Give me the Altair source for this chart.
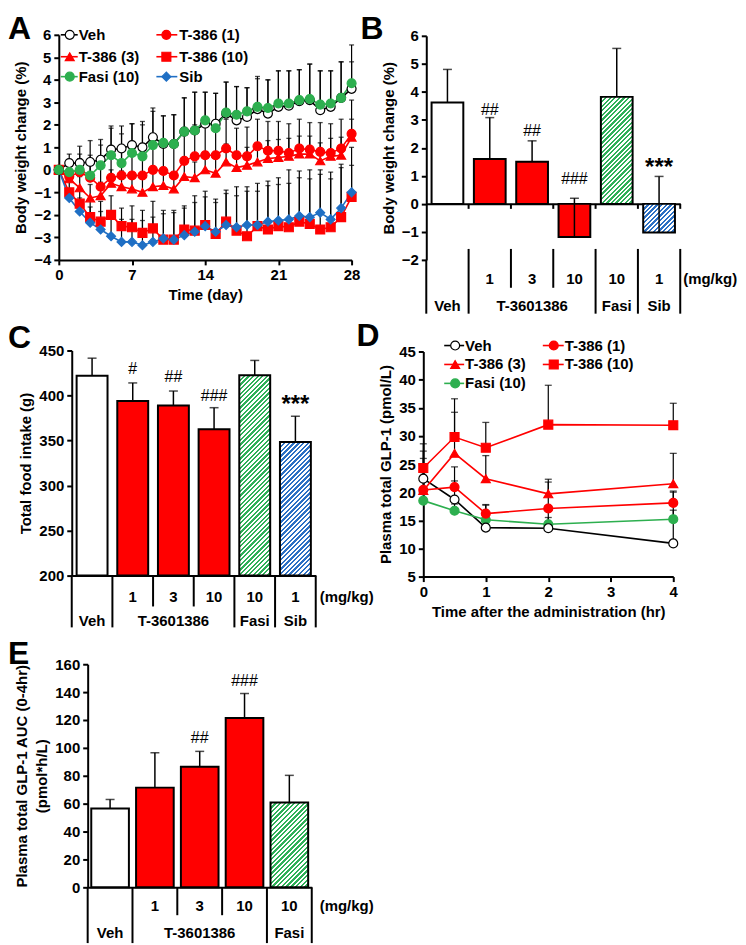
import math
import altair as alt
import pandas as pd

FONT = "Liberation Sans"
RED = "#FF0000"
GREEN = "#2DAF4F"
BLUE = "#1F6FC4"
HATCH_COLORS = {"fasi": "#2FB058", "sib": "#2C70C4"}

# ================= Panel A : body weight change over 28 days =================
a_series = ["Veh", "T-386 (1)", "T-386 (3)", "T-386 (10)", "Fasi (10)", "Sib"]
a_days = list(range(29))
a_veh = [0, 0.3, 0.3, 0.35, 0.45, 0.9, 0.95, 1.1, 1.0, 1.45, 1.15, 1.15, 1.7, 1.75, 2.05, 2.05,
         2.5, 2.2, 2.35, 2.7, 2.5, 2.8, 2.85, 3.05, 3.1, 2.65, 2.8, 3.2, 3.6]
a_t1 = [0, -0.3, -0.1, -0.35, -0.75, -0.35, -0.25, -0.25, -0.25, 0.0, -0.05, -0.25, 0.4, 0.6, 0.65,
        0.65, 0.95, 0.65, 0.6, 1.05, 0.85, 0.85, 0.75, 0.95, 0.9, 0.8, 0.75, 0.95, 1.6]
a_t3 = [0, -0.4, -0.8, -1.25, -1.15, -0.6, -0.75, -0.85, -1.0, -0.75, -0.7, -0.85, -0.3, -0.35, 0.0,
        -0.15, 0.35, 0.1, 0.2, 0.35, 0.5, 0.55, 0.6, 0.7, 0.7, 0.4, 0.6, 0.65, 1.45]
a_t10 = [0, -1.0, -1.5, -2.1, -2.3, -2.0, -2.5, -2.55, -2.8, -2.6, -3.1, -3.1, -2.65, -2.7, -2.45,
         -2.85, -2.3, -2.7, -2.95, -2.5, -2.65, -2.5, -2.55, -2.3, -2.4, -2.65, -2.55, -2.1, -1.2]
a_fasi = [0, -0.1, 0.0, -0.25, 0.2, 0.65, 0.3, 0.75, 0.6, 1.1, 1.2, 1.15, 1.7, 1.75, 2.2, 1.85,
          2.55, 2.45, 2.6, 2.8, 2.75, 2.95, 2.95, 3.1, 3.15, 2.9, 2.95, 3.2, 3.85]
a_sib = [0, -1.25, -1.85, -2.35, -2.65, -2.95, -3.2, -3.2, -3.35, -3.2, -3.05, -3.1, -2.9, -2.75,
         -2.5, -2.75, -2.45, -2.55, -2.45, -2.45, -2.3, -2.25, -2.2, -2.05, -2.1, -1.9, -2.2, -1.7, -1.0]
a_veh_err = [0, 0.4, 0.75, 0.95, 0.9, 1.05, 1.0, 0.95, 1.15, 1.3, 1.25, 1.3, 1.5, 1.7, 1.4, 1.35,
             1.4, 1.5, 1.3, 1.35, 1.5, 1.6, 1.55, 1.4, 1.6, 1.75, 1.6, 1.6, 1.2]
a_t1_err = [0, 0.5, 0.6, 0.8, 0.9, 1.1, 1.3, 1.3, 1.4, 1.4, 1.3, 1.4, 1.3, 1.4, 1.3, 1.3, 1.3,
            1.2, 1.3, 1.2, 1.3, 1.3, 1.3, 1.3, 1.2, 1.3, 1.3, 1.3, 1.5]
a_t3_err = [0, 0.4, 0.5, 0.6, 0.6, 0.6, 0.7, 0.7, 0.7, 0.7, 0.7, 0.7, 0.7, 0.7, 0.8, 0.8, 0.8,
            0.7, 0.8, 0.8, 0.8, 0.8, 0.8, 0.8, 0.8, 0.8, 0.8, 0.8, 0.8]
a_t10_err = [0, 0.5, 0.6, 0.8, 0.9, 0.85, 0.8, 0.95, 1.0, 1.2, 1.3, 1.3, 1.05, 1.55, 1.5, 1.55,
             1.4, 1.95, 2.2, 1.9, 2.15, 2.15, 2.55, 2.25, 2.4, 2.65, 2.45, 2.35, 1.4]
a_fasi_err = [0, 0.5, 0.7, 0.9, 0.9, 1.2, 1.3, 1.3, 1.4, 1.5, 1.2, 1.3, 1.5, 1.7, 1.25, 1.55,
              1.35, 1.25, 1.05, 1.35, 1.25, 1.45, 1.45, 1.35, 1.55, 1.5, 1.45, 1.6, 1.7]
a_sib_err = [0, 0.4, 0.6, 0.7, 0.8, 0.9, 1.0, 1.0, 1.1, 1.1, 1.1, 1.2, 1.2, 1.3, 1.3, 1.3, 1.4,
             1.4, 1.5, 1.5, 1.6, 1.6, 1.6, 1.7, 1.7, 1.7, 1.8, 1.8, 2.0]
a_x_ticks = [0, 7, 14, 21, 28]
a_y_ticks = [-4, -3, -2, -1, 0, 1, 2, 3, 4, 5, 6]

# ================= Panel B : body weight change at day 28 =================
b_groups = ["Veh", "T1", "T3", "T10", "Fasi", "Sib"]
b_mean = [3.62, 1.6, 1.5, -1.18, 3.82, -1.02]
b_err = [1.18, 1.48, 0.75, 1.38, 1.73, 2.0]
b_ann_groups = ["T1", "T3", "T10", "Sib"]
b_ann_text = ["##", "##", "###", "***"]
b_ann_y = [3.35, 2.6, 0.9, 1.5]
b_y_ticks = [-2, -1, 0, 1, 2, 3, 4, 5, 6]

# ================= Panel C : total food intake =================
c_groups = ["Veh", "T1", "T3", "T10", "Fasi", "Sib"]
c_mean = [422, 394, 389, 362.5, 422.5, 348.5]
c_err = [19.5, 20, 16, 24, 16.5, 28.5]
c_ann_groups = ["T1", "T3", "T10", "Sib"]
c_ann_text = ["#", "##", "###", "***"]
c_ann_y = [429, 421, 400, 396]
c_y_ticks = [200, 250, 300, 350, 400, 450]

# table labels under bar panels
dose_groups = ["T1", "T3", "T10", "Fasi", "Sib"]
dose_labels = ["1", "3", "10", "10", "1"]
name_groups = ["Veh", "T3", "Fasi", "Sib"]
name_labels = ["Veh", "T-3601386", "Fasi", "Sib"]

# ================= Panel D : plasma total GLP-1 time course =================
d_series = ["Veh", "T-386 (1)", "T-386 (3)", "T-386 (10)", "Fasi (10)"]
d_times = [0, 0.5, 1, 2, 4]
d_veh = [22.4, 18.7, 13.7, 13.6, 10.9]
d_t1 = [20.4, 20.9, 16.2, 17.1, 18.1]
d_t3 = [20.3, 26.9, 22.4, 19.7, 21.5]
d_t10 = [24.3, 29.8, 27.9, 32.0, 31.9]
d_fasi = [18.5, 16.7, 15.1, 14.3, 15.2]
d_veh_err = [4.9, 3.3, 4.0, 4.0, 9.1]
d_t1_err = [3.1, 3.6, 1.6, 4.7, 2.1]
d_t3_err = [5.7, 7.3, 4.1, 2.6, 5.4]
d_t10_err = [4.3, 6.8, 4.5, 7.0, 3.9]
d_fasi_err = [1.8, 1.2, 1.4, 1.2, 1.6]
d_x_ticks = [0, 1, 2, 3, 4]
d_y_ticks = [5, 10, 15, 20, 25, 30, 35, 40, 45]

# ================= Panel E : GLP-1 AUC =================
e_groups = ["Veh", "T1", "T3", "T10", "Fasi"]
e_mean = [56.5, 71.5, 86.5, 121.5, 60.8]
e_err = [6.5, 25.0, 11.0, 17.5, 19.5]
e_ann_groups = ["T3", "T10"]
e_ann_text = ["##", "###"]
e_ann_y = [107, 147.6]
e_y_ticks = [0, 20, 40, 60, 80, 100, 120, 140, 160]
e_dose_groups = ["T1", "T3", "T10", "Fasi"]
e_dose_labels = ["1", "3", "10", "10"]
e_name_groups = ["Veh", "T3", "Fasi"]
e_name_labels = ["Veh", "T-3601386", "Fasi"]

KIND = {"Veh": "veh", "T1": "t386", "T3": "t386", "T10": "t386", "Fasi": "fasi", "Sib": "sib"}

STYLE = {  # line colour, fill, shape, size
    "Veh": ("black", "#FFFFFF", "circle", 70),
    "T-386 (1)": (RED, RED, "circle", 70),
    "T-386 (3)": (RED, RED, "triangle-up", 70),
    "T-386 (10)": (RED, RED, "square", 64),
    "Fasi (10)": (GREEN, GREEN, "circle", 70),
    "Sib": (BLUE, BLUE, "diamond", 56),
}


def hatch(color, w, h, period=3.3):
    """Diagonal '/' stripes as a many-stop linear gradient in bounding-box units."""
    length = (w + h) / math.sqrt(2)
    n = max(1, int(round(length / period)))
    ds = 1.0 / n
    stops = []
    for i in range(n):
        a, b, c = round(i * ds, 5), round((i + 0.5) * ds, 5), round((i + 1) * ds, 5)
        stops += [{"offset": a, "color": color}, {"offset": b, "color": color},
                  {"offset": b, "color": "#FFFFFF"}, {"offset": c, "color": "#FFFFFF"}]
    k = (w + h) / (w * w + h * h)
    return {"gradient": "linear", "x1": 0, "y1": 0, "x2": round(k * w, 5),
            "y2": round(k * h, 5), "stops": stops}


def letter_layer(ch, x, y):
    return alt.Chart(pd.DataFrame({"t": [ch]})).mark_text(
        font=FONT, fontSize=32, fontWeight="bold", align="left", baseline="alphabetic",
        color="black").encode(x=alt.value(x), y=alt.value(y), text="t:N")


def rules_layer(segs, width=2):
    df = pd.DataFrame(segs, columns=["x", "y", "y2"])
    return alt.Chart(df).mark_rule(color="black", strokeWidth=width).encode(
        x=alt.X("x:Q", scale=None), y=alt.Y("y:Q", scale=None), y2="y2:Q")


def text_px(txt, x, y, size=15, weight="bold", align="left"):
    return alt.Chart(pd.DataFrame({"t": [txt]})).mark_text(
        font=FONT, fontSize=size, fontWeight=weight, align=align, baseline="middle",
        color="black").encode(x=alt.value(x), y=alt.value(y), text="t:N")


def line_panel(letter, lxy, series, xvals, means, errs, zorder, x_dom, x_ticks, x_title,
               y_dom, y_ticks, y_title, W, H, xr, yr, leg_rows, leg_cols, leg_cells,
               size_mult=1.0, cap=6):
    xs = alt.Scale(domain=x_dom, range=xr, nice=False, zero=False)
    ys = alt.Scale(domain=y_dom, range=yr, nice=False, zero=False)
    xax = alt.Axis(values=x_ticks, title=x_title, offset=-(H - yr[0]))
    yax = alt.Axis(values=y_ticks, title=y_title, offset=-xr[0])

    def X(f):
        return alt.X(f + ":Q", scale=xs, axis=xax)

    def Y(f):
        return alt.Y(f + ":Q", scale=ys, axis=yax)

    rows = []
    for s, vals, es in zip(series, means, errs):
        for xv, v, e in zip(xvals, vals, es):
            rows.append(dict(series=s, x=xv, v=v, top=v + e, z=zorder[s]))
    df = pd.DataFrame(rows)
    cscale = alt.Scale(domain=series, range=[STYLE[s][0] for s in series])
    fscale = alt.Scale(domain=series, range=[STYLE[s][1] for s in series])
    shscale = alt.Scale(domain=series, range=[STYLE[s][2] for s in series])
    szscale = alt.Scale(domain=series, range=[STYLE[s][3] * size_mult for s in series])

    err_rule = alt.Chart(df).transform_filter("datum.top > datum.v").mark_rule(
        color="black", strokeWidth=1.2).encode(x=X("x"), y=Y("v"), y2="top:Q")
    err_cap = alt.Chart(df).transform_filter("datum.top > datum.v").mark_tick(
        color="black", thickness=1.3, size=cap, orient="horizontal").encode(x=X("x"), y=Y("top"))
    lines = alt.Chart(df).mark_line(strokeWidth=1.6).encode(
        x=X("x"), y=Y("v"), color=alt.Color("series:N", scale=cscale, legend=None))
    pts = alt.Chart(df).mark_point(filled=True, opacity=1, strokeWidth=1.2).encode(
        x=X("x"), y=Y("v"),
        fill=alt.Fill("series:N", scale=fscale, legend=None),
        stroke=alt.Stroke("series:N", scale=cscale, legend=None),
        shape=alt.Shape("series:N", scale=shscale, legend=None),
        size=alt.Size("series:N", scale=szscale, legend=None),
        order=alt.Order("z:Q"))

    lrows = []
    for s in series:
        r, c = leg_cells[s]
        x0, mx, x1, tx = leg_cols[c]
        lrows.append(dict(series=s, y=leg_rows[r], x0=x0, x1=x1, mx=mx, tx=tx))
    ldf = pd.DataFrame(lrows)
    leg_line = alt.Chart(ldf).mark_rule(strokeWidth=1.6).encode(
        x=alt.X("x0:Q", scale=None), x2="x1:Q", y=alt.Y("y:Q", scale=None),
        color=alt.Color("series:N", scale=cscale, legend=None))
    leg_pts = alt.Chart(ldf).mark_point(filled=True, opacity=1, strokeWidth=1.2).encode(
        x=alt.X("mx:Q", scale=None), y=alt.Y("y:Q", scale=None),
        fill=alt.Fill("series:N", scale=fscale, legend=None),
        stroke=alt.Stroke("series:N", scale=cscale, legend=None),
        shape=alt.Shape("series:N", scale=shscale, legend=None),
        size=alt.Size("series:N", scale=szscale, legend=None))
    leg_txt = alt.Chart(ldf).mark_text(font=FONT, fontSize=15, fontWeight="bold", align="left",
                                       baseline="middle", color="black").encode(
        x=alt.X("tx:Q", scale=None), y=alt.Y("y:Q", scale=None), text="series:N")

    return alt.layer(err_rule, err_cap, lines, pts, leg_line, leg_pts, leg_txt,
                     letter_layer(letter, *lxy)).properties(width=W, height=H)


def bar_panel(letter, lxy, groups, means, errs, ann_g, ann_t, ann_y, base_val, y_dom, y_ticks,
              y_title, W, H, xr, yr, pi, dose_g, dose_l, name_g, name_l, line_top,
              long_bottom, short_bottom, short_k, row1_y, row2_y, mg_xy, zero_ticks=False):
    ppu = (yr[0] - yr[1]) / (y_dom[1] - y_dom[0])
    n = len(groups)
    step = (xr[1] - xr[0]) / n
    bw = step * (1 - pi)
    base_px = yr[0] - (base_val - y_dom[0]) * ppu
    xs = alt.Scale(domain=groups, range=xr, paddingInner=pi, paddingOuter=pi / 2)
    ys = alt.Scale(domain=y_dom, range=yr, nice=False, zero=False)
    xax = alt.Axis(title=None, labels=False, ticks=False, domain=True, offset=-(H - base_px))
    yax = alt.Axis(values=y_ticks, title=y_title, offset=-xr[0])

    def X(f):
        return alt.X(f + ":N", scale=xs, axis=xax)

    def Y(f):
        return alt.Y(f + ":Q", scale=ys, axis=yax)

    kinds = [KIND[g] for g in groups]
    df = pd.DataFrame(dict(g=groups, m=means, top=[m + e for m, e in zip(means, errs)], kind=kinds))
    layers = [alt.Chart(df).transform_filter("datum.kind == 'veh' || datum.kind == 't386'")
              .mark_bar(stroke="black", strokeWidth=2).encode(
                  x=X("g"), y=Y("m"), y2=alt.datum(base_val),
                  fill=alt.Fill("kind:N", scale=alt.Scale(domain=["veh", "t386"],
                                                          range=["#FFFFFF", RED]), legend=None))]
    for g, m, kd in zip(groups, means, kinds):
        if kd in HATCH_COLORS:
            grad = hatch(HATCH_COLORS[kd], bw, abs(m - base_val) * ppu)
            layers.append(alt.Chart(df).transform_filter(alt.datum.g == g)
                          .mark_bar(stroke="black", strokeWidth=2, fill=grad)
                          .encode(x=X("g"), y=Y("m"), y2=alt.datum(base_val)))
    layers.append(alt.Chart(df).mark_rule(color="black", strokeWidth=1.5).encode(
        x=X("g"), y=Y("m"), y2="top:Q"))
    layers.append(alt.Chart(df).mark_tick(color="black", thickness=1.5, size=9,
                                          orient="horizontal").encode(x=X("g"), y=Y("top")))
    adf = pd.DataFrame(dict(g=ann_g, t=ann_t, y=ann_y))
    hdf = adf[~adf["t"].str.startswith("*")]
    sdf = adf[adf["t"].str.startswith("*")]
    if len(hdf):
        layers.append(alt.Chart(hdf).mark_text(font=FONT, fontSize=16, baseline="middle",
                                               color="black").encode(
            x=X("g"), y=Y("y"), text="t:N"))
    if len(sdf):
        layers.append(alt.Chart(sdf).mark_text(font=FONT, fontSize=24, fontWeight="bold",
                                               baseline="middle", dy=6, color="black").encode(
            x=X("g"), y=Y("y"), text="t:N"))
    # category table below the axis
    segs = [(xr[0], yr[0], long_bottom)]
    for k in range(1, n + 1):
        xk = xr[0] + step * k
        segs.append((xk, line_top, short_bottom if k in short_k else long_bottom))
        if zero_ticks:
            segs.append((xk, base_px, base_px + 5))
    layers.append(rules_layer(segs))
    r1 = pd.DataFrame(dict(g=dose_g, t=dose_l))
    r2 = pd.DataFrame(dict(g=name_g, t=name_l))
    for rdf, ry in ((r1, row1_y), (r2, row2_y)):
        layers.append(alt.Chart(rdf).mark_text(font=FONT, fontSize=15, fontWeight="bold",
                                               baseline="middle", color="black").encode(
            x=X("g"), y=alt.value(ry), text="t:N"))
    layers.append(text_px("(mg/kg)", mg_xy[0], mg_xy[1]))
    layers.append(letter_layer(letter, *lxy))
    return alt.layer(*layers).properties(width=W, height=H)


# ---------------- build panels ----------------
pA = line_panel(
    "A", (0, 29), a_series, a_days,
    [a_veh, a_t1, a_t3, a_t10, a_fasi, a_sib],
    [a_veh_err, a_t1_err, a_t3_err, a_t10_err, a_fasi_err, a_sib_err],
    {"T-386 (10)": 0, "Sib": 1, "T-386 (3)": 2, "T-386 (1)": 3, "Veh": 4, "Fasi (10)": 5},
    [0, 28], a_x_ticks, "Time (day)", [-4, 6], a_y_ticks, "Body weight change (%)",
    362, 310, [51, 345], [251, 25],
    leg_rows=[25, 47, 67], leg_cols=[(53, 62, 70, 71), (149, 159, 170, 172)],
    leg_cells={"Veh": (0, 0), "T-386 (1)": (0, 1), "T-386 (3)": (1, 0),
               "T-386 (10)": (1, 1), "Fasi (10)": (2, 0), "Sib": (2, 1)},
    size_mult=1.15, cap=5)

pB = bar_panel(
    "B", (-8, 29), b_groups, b_mean, b_err, b_ann_groups, b_ann_text, b_ann_y, 0, [-2, 6],
    b_y_ticks, "Body weight change (%)", 368, 310, [58, 313], [251, 26], 0.25,
    dose_groups, dose_labels, name_groups, name_labels,
    line_top=240, long_bottom=305, short_bottom=279, short_k=(2, 3),
    row1_y=270, row2_y=297, mg_xy=(316, 270), zero_ticks=True)

pC = bar_panel(
    "C", (0, 29), c_groups, c_mean, c_err, c_ann_groups, c_ann_text, c_ann_y, 200, [200, 450],
    c_y_ticks, "Total food intake (g)", 362, 314, [64, 309], [258, 32], 0.24,
    dose_groups, dose_labels, name_groups, name_labels,
    line_top=258, long_bottom=310, short_bottom=289, short_k=(2, 3),
    row1_y=280, row2_y=304, mg_xy=(313, 280))

pD = line_panel(
    "D", (-12, 27), d_series, d_times,
    [d_veh, d_t1, d_t3, d_t10, d_fasi],
    [d_veh_err, d_t1_err, d_t3_err, d_t10_err, d_fasi_err],
    {"Fasi (10)": 0, "Veh": 1, "T-386 (1)": 2, "T-386 (3)": 3, "T-386 (10)": 4},
    [0, 4], d_x_ticks, "Time after the administration (hr)", [5, 45], d_y_ticks,
    "Plasma total GLP-1 (pmol/L)", 368, 314, [55, 306], [259, 33],
    leg_rows=[27, 46, 65], leg_cols=[(76, 87, 96, 97), (175, 186, 196, 197)],
    leg_cells={"Veh": (0, 0), "T-386 (1)": (0, 1), "T-386 (3)": (1, 0),
               "T-386 (10)": (1, 1), "Fasi (10)": (2, 0)},
    size_mult=1.35, cap=7)

pE = bar_panel(
    "E", (0, 33), e_groups, e_mean, e_err, e_ann_groups, e_ann_text, e_ann_y, 0, [0, 160],
    e_y_ticks, ["Plasma total GLP-1 AUC (0-4hr)", "(pmol*h/L)"], 362, 313, [80, 305], [257, 33],
    0.16, e_dose_groups, e_dose_labels, e_name_groups, e_name_labels,
    line_top=257, long_bottom=313, short_bottom=285, short_k=(2, 3),
    row1_y=276, row2_y=303, mg_xy=(313, 276))

chart = alt.concat(pA, pB, pC, pD, pE, columns=2, spacing=0, bounds="flush").properties(
    padding=0
).configure_view(strokeWidth=0).configure_axis(
    domainColor="black", domainWidth=2, tickColor="black", tickWidth=2, tickSize=5,
    labelFont=FONT, labelFontSize=15, labelFontWeight="bold", labelColor="black",
    labelPadding=3, labelFlush=False, labelOverlap=False,
    titleFont=FONT, titleFontSize=15, titleFontWeight="bold", titleColor="black",
    titlePadding=5, titleLineHeight=20, grid=False)

chart.save("out.html", embed_options={"renderer": "svg", "actions": False})
